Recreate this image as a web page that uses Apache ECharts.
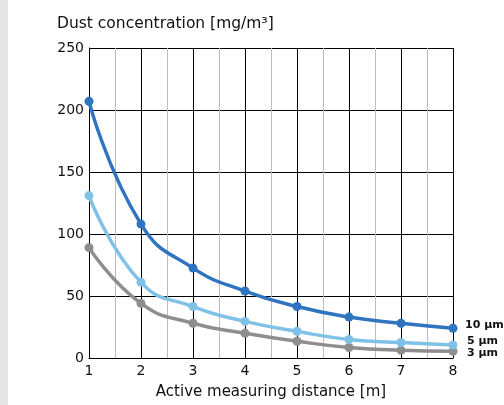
<!DOCTYPE html>
<html><head><meta charset="utf-8">
<script src="https://cdn.jsdelivr.net/npm/echarts@6/dist/echarts.min.js"></script>
<style>html,body{margin:0;padding:0;background:#fff}#c{width:504px;height:405px}</style>
</head><body><div id="c"></div>
<script>
const distances = [1, 2, 3, 4, 5, 6, 7, 8];
const dust10 = [207, 108, 72.5, 54, 41.5, 33, 28, 24];
const dust5 = [131, 61, 41.5, 29.5, 21.5, 15, 12.5, 10.5];
const dust3 = [89, 44, 28, 20, 13.5, 8.5, 6.2, 5.4];
const seriesNames = ['10 µm', '5 µm', '3 µm'];
const yTitle = 'Dust concentration [mg/m³]';
const xTitle = 'Active measuring distance [m]';
const colors = ['#2f74c0', '#80c1e7', '#8e8e90'];
const font = '"DejaVu Sans", sans-serif';

const chart = echarts.init(document.getElementById('c'), null, {renderer: 'canvas'});
const mk = (name, vals, c, z) => ({
  name, type: 'line', smooth: 0.5, z,
  data: distances.map((d, i) => [d, vals[i]]),
  symbol: 'circle', symbolSize: 9,
  lineStyle: {color: c, width: 3.5},
  itemStyle: {color: c},
  emphasis: {disabled: true}
});
const lab = (t, x, y) => ({type: 'text', style: {text: t, x, y, align: 'left', verticalAlign: 'middle', font: 'bold 11px ' + font, fill: '#111'}});
chart.setOption({
  animation: false,
  grid: {left: 89, right: 51, top: 48, bottom: 45},
  graphic: [
    {type: 'rect', shape: {x: 0, y: 0, width: 8, height: 405}, style: {fill: '#e5e6e8'}},
    {type: 'text', style: {text: yTitle, x: 57, y: 24, verticalAlign: 'middle', font: '15.5px ' + font, fill: '#111'}},
    lab(seriesNames[0], 465, 325),
    lab(seriesNames[1], 467, 341.5),
    lab(seriesNames[2], 467, 353.5)
  ],
  xAxis: {
    type: 'value', min: 1, max: 8, interval: 1,
    name: xTitle, nameLocation: 'middle', nameGap: 27,
    nameTextStyle: {fontSize: 15, fontFamily: font, color: '#111'},
    axisLine: {show: true, lineStyle: {color: '#000', width: 1}},
    axisTick: {show: false},
    axisLabel: {fontSize: 14, fontFamily: font, color: '#111', margin: 6},
    splitLine: {show: true, lineStyle: {color: '#000', width: 1}},
    minorTick: {show: false, splitNumber: 2},
    minorSplitLine: {show: true, lineStyle: {color: '#bdbdbd', width: 1}}
  },
  yAxis: {
    type: 'value', min: 0, max: 250, interval: 50,
    axisLine: {show: true, lineStyle: {color: '#000', width: 1}},
    axisTick: {show: false},
    axisLabel: {fontSize: 14, fontFamily: font, color: '#111', margin: 5},
    splitLine: {show: true, lineStyle: {color: '#000', width: 1}}
  },
  series: [mk(seriesNames[2], dust3, colors[2], 2), mk(seriesNames[1], dust5, colors[1], 3), mk(seriesNames[0], dust10, colors[0], 4)]
});
</script></body></html>
